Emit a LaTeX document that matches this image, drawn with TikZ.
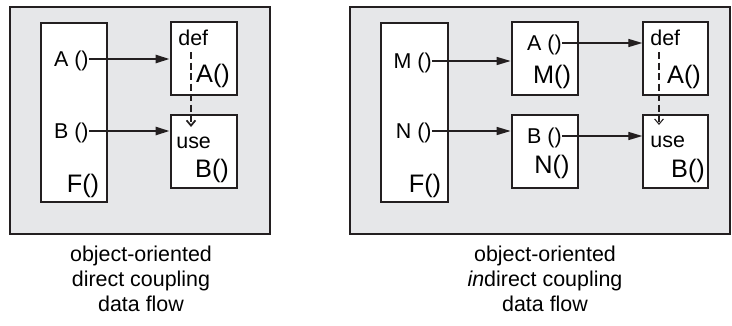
\documentclass[tikz,border=0pt]{standalone}
\usepackage{fontspec}
\setmainfont{Liberation Sans}
\usetikzlibrary{arrows.meta}
\definecolor{panelgray}{HTML}{E6E7E9}
\definecolor{inkgray}{HTML}{231F20}

\begin{document}
\begin{tikzpicture}[x=0.02cm,y=-0.02cm]
		\tikzset{> = {Triangle[length=8pt,width=4.6pt]},
			panel/.style = {draw=inkgray,fill=panelgray,line width=1.3pt},
			box/.style = {draw=inkgray,fill=white,line width=1.6pt,inner sep=0pt,minimum width=1.32cm,minimum height=1.46cm},
			thinbox/.style = {box,line width=0.8pt,minimum width=1.3cm},
			tall/.style = {box,minimum height=3.58cm},
			small/.style = {inner sep=0pt,font=\fontsize{12.2}{14}\selectfont,text height=8.7pt,text depth=0pt},
			big/.style = {inner sep=0pt,font=\fontsize{14.4}{16}\selectfont},
			caption/.style = {align=center,inner sep=0pt,font=\fontsize{12.2}{14.2}\selectfont},
			flow/.style = {->,draw=inkgray,line width=1.3pt},
			thinflow/.style = {flow,line width=0.8pt},
			dataflow/.style = {-{Straight Barb[length=3pt,width=5pt]},draw=inkgray,line width=1pt,dash pattern=on 4pt off 2pt},
			thindataflow/.style = {dataflow,line width=0.6pt}}
		\useasboundingbox (0,0) rectangle (732,325);
		% direct coupling
		\filldraw[panel] (10,7) rectangle (270,234);
		\node[tall] (FboxL) at (74,112.5){};
		\node[box] (defboxL) at (204,58.5){};
		\node[box] (useboxL) at (204,151.5){};
		\node[small,anchor=east] (aL) at (89,59){A ()};
		\node[small,anchor=east] (bL) at (89,131){B ()};
		\node[big,anchor=base] (fL) at (83,192){F()};
		\node[small,anchor=base west] (defL) at (178,45){def};
		\node[big,anchor=base] (AL) at (213,82){A()};
		\node[small,anchor=base west] (useL) at (176,148){use};
		\node[big,anchor=base] (BL) at (212,177){B()};
		\draw[flow] (aL.east) -- (aL.east -| defboxL.west);
		\draw[flow] (bL.east) -- (bL.east -| useboxL.west);
		\coordinate (dsL) at (191,52);
		\coordinate (deL) at (191,127);
		\draw[dataflow] (dsL) -- (deL);
		% indirect coupling
		\filldraw[panel] (350,7) rectangle (730,234);
		\node[tall,minimum width=1.34cm] (FboxR) at (414.5,112.5){};
		\node[box] (AMbox) at (545,58.5){};
		\node[box] (BNbox) at (545,151.5){};
		\node[thinbox] (defboxR) at (675.5,58.5){};
		\node[thinbox] (useboxR) at (675.5,151.5){};
		\node[small,anchor=east] (mR) at (432,61){M ()};
		\node[small,anchor=east] (nR) at (432,131){N ()};
		\node[big,anchor=base] (fR) at (425,192){F()};
		\node[small,anchor=east] (aR) at (562,43){A ()};
		\node[big,anchor=base] (MR) at (552,83){M()};
		\node[small,anchor=east] (bR) at (562,136){B ()};
		\node[big,anchor=base] (NR) at (552,173){N()};
		\node[small,anchor=base west] (defR) at (650,45){def};
		\node[big,anchor=base] (AR) at (684,83){A()};
		\node[small,anchor=base west] (useR) at (650,147){use};
		\node[big,anchor=base] (BR) at (688,177){B()};
		\draw[thinflow] (mR.east) -- (mR.east -| AMbox.west);
		\draw[thinflow] (nR.east) -- (nR.east -| BNbox.west);
		\draw[thinflow] (aR.east) -- (aR.east -| defboxR.west);
		\draw[thinflow] (bR.east) -- (bR.east -| useboxR.west);
		\coordinate (dsR) at (659,52);
		\coordinate (deR) at (659,125);
		\draw[thindataflow] (dsR) -- (deR);
		% captions
		\node[caption,anchor=north] (capL) at (141,246){object-oriented\\direct coupling\\data flow};
		\node[caption,anchor=north] (capR) at (545,246){object-oriented\\\textit{in}direct coupling\\data flow};
	\end{tikzpicture}
\end{document}
